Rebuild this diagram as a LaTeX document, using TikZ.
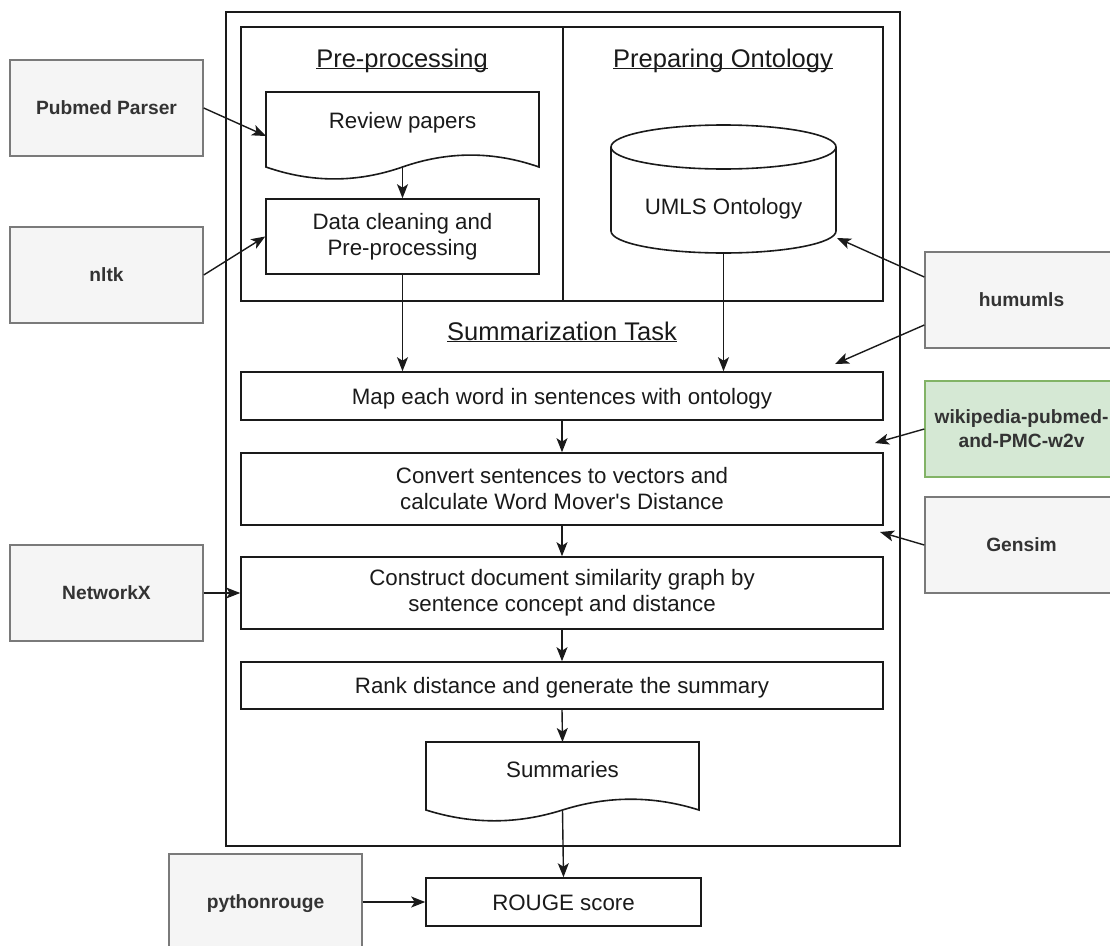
\documentclass[tikz,border=0pt]{standalone}
\usepackage{fontspec}
\setmainfont{Liberation Sans}[Ligatures=TeXOff]
\usetikzlibrary{arrows.meta,calc}

\definecolor{ink}{HTML}{1A1A1A}
\definecolor{libfill}{HTML}{F5F5F5}
\definecolor{libline}{HTML}{7A7A7A}
\definecolor{libtext}{HTML}{333333}
\definecolor{wfill}{HTML}{D5E8D4}
\definecolor{wline}{HTML}{82B366}

\newcommand\bodysize{\fontsize{22.3}{26}\selectfont}
\newcommand\headsize{\fontsize{25.5}{30}\selectfont}
\newcommand\libsize{\fontsize{19.2}{24}\selectfont\bfseries}
\newcommand\ulhead[1]{\underline{\smash{#1}}}

\begin{document}
\begin{tikzpicture}[x=1pt,y=-1pt,
  panel/.style={draw=ink, line width=1.6pt, inner sep=0pt},
  docline/.style={draw=ink, line width=1.6pt, fill=white},
  stage/.style={draw=ink, line width=1.6pt, fill=white, inner sep=0pt,
    minimum width=642pt, font=\bodysize, text=ink, align=center},
  oneline/.style={text height=16pt, text depth=0pt},
  txt/.style={font=\bodysize, text=ink, inner sep=0pt, text height=16pt, text depth=0pt},
  headtxt/.style={font=\headsize, text=ink, inner sep=0pt, anchor=base},
  toolbox/.style={draw=libline, line width=1.4pt, fill=libfill, inner sep=0pt,
    minimum width=193pt, minimum height=96pt, font=\libsize, text=libtext, align=center},
  toolone/.style={toolbox, text height=13.8pt, text depth=0pt},
  hidden/.style={inner sep=0pt, outer sep=0pt},
  flow/.style={draw=ink, line width=1.4pt, -{Stealth[length=14pt,width=11pt,inset=3.5pt]}},
]
\useasboundingbox (0,0) rectangle (1110,945);
\fill[white] (0,0) rectangle (1110,945);

% frames
\node[panel, minimum width=674pt, minimum height=834pt] (outer) at (563,429) {};
\node[panel, minimum width=322pt, minimum height=274pt] (prepcol) at (402,164) {};
\node[panel, minimum width=320pt, minimum height=274pt] (ontocol) at (723,164) {};
\node[headtxt] (preptitle) at (402,67) {\ulhead{Pre-processing}};
\node[headtxt] (ontotitle) at (723,67) {\ulhead{Preparing Ontology}};
\node[headtxt] (tasktitle) at (562,340) {\ulhead{Summarization Task}};

% input documents
\draw[docline] (266,92) -- (539,92) -- (539,167)
  .. controls (493.5,151.1) and (448,151.1) .. (402.5,167)
  .. controls (357,182.9) and (311.5,182.9) .. (266,167) -- cycle;
\node[hidden, minimum width=273pt, minimum height=75pt] (review) at (402.5,129.5) {};
\node[txt] (reviewtxt) at (402.5,120.5) {Review papers};

\node[stage, minimum width=273pt, minimum height=75pt] (clean) at (402.5,236.5)
  {Data cleaning and\\Pre-processing};

% ontology store
\draw[docline] (611,147) -- (611,231)
  .. controls (611,243.2) and (661.4,253) .. (723.5,253)
  .. controls (785.6,253) and (836,243.2) .. (836,231) -- (836,147);
\draw[docline] (723.5,147) ellipse [x radius=112.5pt, y radius=22pt];
\node[hidden, minimum width=225pt, minimum height=128pt] (db) at (723.5,189) {};
\node[txt] (dbtxt) at (723.5,206.5) {UMLS Ontology};

% summarization steps
\node[stage, oneline, minimum height=48pt] (map) at (562,396)
  {Map each word in sentences with ontology};
\node[stage, minimum height=72pt] (convert) at (562,489)
  {Convert sentences to vectors and\\calculate Word Mover's Distance};
\node[stage, minimum height=72pt] (graph) at (562,593)
  {Construct document similarity graph by\\sentence concept and distance};
\node[stage, oneline, minimum height=47pt] (rank) at (562,685.5)
  {Rank distance and generate the summary};

\draw[docline] (426,742) -- (699,742) -- (699,810)
  .. controls (653.5,795.6) and (608,795.6) .. (562.5,810)
  .. controls (517,824.4) and (471.5,824.4) .. (426,810) -- cycle;
\node[hidden, minimum width=273pt, minimum height=68pt] (sumdoc) at (562.5,776) {};
\node[txt] (sumtxt) at (562.5,769.5) {Summaries};

\node[stage, oneline, minimum width=275pt, minimum height=48pt] (rouge) at (563.5,902) {ROUGE score};

% libraries
\node[toolone] (pubmed) at (106.5,108) {Pubmed Parser};
\node[toolone] (nltk) at (106.5,275) {nltk};
\node[toolone] (networkx) at (106.5,593) {NetworkX};
\node[toolone] (pyrouge) at (265.5,902) {pythonrouge};
\node[toolone] (humumls) at (1021.5,300) {humumls};
\node[toolbox, fill=wfill, draw=wline] (w2v) at (1021.5,429) {wikipedia-pubmed-\\and-PMC-w2v};
\node[toolone] (gensim) at (1021.5,545) {Gensim};

% connectors
\coordinate (hmtip) at (835,364);
\coordinate (w2vtip) at (875,443);
\coordinate (gstip) at (880,532);

\draw[flow] (pubmed.east) -- ($(review.west)+(0,6.5)$);
\draw[flow] (nltk.east) -- (clean.west);
\draw[flow] (review.south) -- (clean.north);
\draw[flow] (clean.south) -- (clean.south |- map.north);
\draw[flow] (db.south) -- (db.south |- map.north);
\draw[flow] ($(humumls.west)+(0,-23)$) -- ($(db.south east)+(1,-15)$);
\draw[flow] ($(humumls.west)+(0,25)$) -- (hmtip);
\draw[flow] (w2v.west) -- (w2vtip);
\draw[flow] (gensim.west) -- (gstip);
\draw[flow] (map.south) -- (convert.north);
\draw[flow] (convert.south) -- (graph.north);
\draw[flow] (networkx.east) -- (graph.west);
\draw[flow] (graph.south) -- (rank.north);
\draw[flow] (rank.south) -- (sumdoc.north);
\draw[flow] (sumdoc.south) -- (rouge.north);
\draw[flow] (pyrouge.east) -- (rouge.west);
\end{tikzpicture}
\end{document}
